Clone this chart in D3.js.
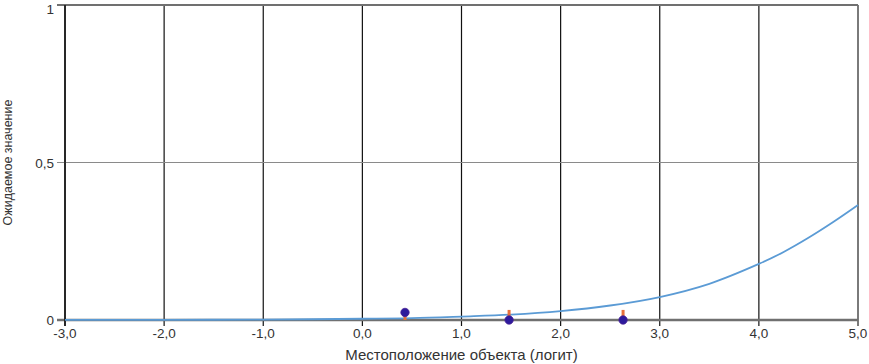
<!DOCTYPE html>
<html lang="ru">
<head>
<meta charset="UTF-8">
<script src="https://cdn.jsdelivr.net/npm/d3@7/dist/d3.min.js"></script>
<style>
    body { margin: 0; background: #fff; }
    svg { display: block; font-family: "Liberation Sans", Arial, sans-serif; }
</style>
</head>
<body>
<svg id="chart" width="869" height="364"></svg>
<script>
    // curve (expected value)
    const curveX = [-3, -2.5, -2, -1.5, -1, -0.5, 0, 0.5, 1, 1.5, 2, 2.5, 3, 3.5, 4, 4.25, 4.5, 4.75, 5];
    const curveY = [0.0002, 0.0003, 0.0005, 0.0008, 0.0014, 0.0024, 0.004, 0.006, 0.011, 0.017, 0.028, 0.046, 0.073, 0.115, 0.178, 0.216, 0.261, 0.311, 0.365];

    // observed points and their stems
    const pointX = [0.43, 1.48, 2.63];
    const pointY = [0.024, 0, 0];
    const stemFrom = [0, 0, 0];
    const stemTo = [0.024, 0.032, 0.032];

    const xTicks = [-3, -2, -1, 0, 1, 2, 3, 4, 5];
    const yTicks = [0, 0.5, 1];

    const margin = {top: 5, right: 11, bottom: 44, left: 65};
    const width = 869, height = 364;

    const svg = d3.select("#chart");

    const x = d3.scaleLinear().domain([-3, 5]).range([margin.left, width - margin.right]);
    const y = d3.scaleLinear().domain([0, 1]).range([height - margin.bottom, margin.top]);

    const fmtX = d => d3.format(".1f")(d).replace(".", ",").replace("−", "-");
    const fmtY = d => String(d).replace(".", ",");

    // vertical grid lines
    svg.append("g")
        .selectAll("line")
        .data(xTicks)
        .join("line")
        .attr("x1", d => x(d)).attr("x2", d => x(d))
        .attr("y1", y(1)).attr("y2", y(0) + 6)
        .attr("stroke", d => d === 5 ? "#7a7a7a" : "#111")
        .attr("stroke-width", d => d === 5 ? 2 : 1.2);

    // horizontal grid lines
    svg.append("g")
        .selectAll("line")
        .data(yTicks)
        .join("line")
        .attr("x1", x(-3) - 8).attr("x2", x(5))
        .attr("y1", d => y(d)).attr("y2", d => y(d))
        .attr("stroke", d => d === 0.5 ? "#8a8a8a" : "#707070")
        .attr("stroke-width", d => d === 0 ? 2.5 : (d === 1 ? 2 : 1));

    // left axis line
    svg.append("line")
        .attr("x1", x(-3)).attr("x2", x(-3))
        .attr("y1", y(1)).attr("y2", y(0) + 6)
        .attr("stroke", "#111").attr("stroke-width", 1.5);

    // tick labels
    svg.append("g")
        .selectAll("text")
        .data(xTicks)
        .join("text")
        .attr("x", d => x(d))
        .attr("y", y(0) + 18)
        .attr("text-anchor", "middle")
        .attr("font-size", 13.5)
        .attr("fill", "#333")
        .text(fmtX);

    svg.append("g")
        .selectAll("text")
        .data(yTicks)
        .join("text")
        .attr("x", x(-3) - 11)
        .attr("y", d => Math.max(y(d) + 5, 14))
        .attr("text-anchor", "end")
        .attr("font-size", 13.5)
        .attr("fill", "#333")
        .text(fmtY);

    // axis titles
    svg.append("text")
        .attr("x", (x(-3) + x(5)) / 2)
        .attr("y", 360)
        .attr("text-anchor", "middle")
        .attr("font-size", 15)
        .attr("fill", "#333")
        .text("Местоположение объекта (логит)");

    svg.append("text")
        .attr("transform", `translate(12, ${y(0.5)}) rotate(-90)`)
        .attr("text-anchor", "middle")
        .attr("font-size", 12.5)
        .attr("fill", "#333")
        .text("Ожидаемое значение");

    // expected curve
    const line = d3.line()
        .x(d => x(d[0]))
        .y(d => y(d[1]))
        .curve(d3.curveCatmullRom);

    svg.append("path")
        .datum(d3.zip(curveX, curveY))
        .attr("fill", "none")
        .attr("stroke", "#5b9bd5")
        .attr("stroke-width", 1.8)
        .attr("d", line);

    // stems
    svg.append("g")
        .selectAll("line")
        .data(pointX.map((px, i) => ({px, a: stemFrom[i], b: stemTo[i]})))
        .join("line")
        .attr("x1", d => x(d.px)).attr("x2", d => x(d.px))
        .attr("y1", d => y(d.a)).attr("y2", d => y(d.b))
        .attr("stroke", "#e8703a")
        .attr("stroke-width", 3);

    // observed points
    svg.append("g")
        .selectAll("circle")
        .data(pointX.map((px, i) => ({px, py: pointY[i]})))
        .join("circle")
        .attr("cx", d => x(d.px))
        .attr("cy", d => y(d.py))
        .attr("r", 4.2)
        .attr("fill", "#2d1a9c")
        .attr("stroke", "#4a2296")
        .attr("stroke-width", 0.8);
</script>
</body>
</html>
